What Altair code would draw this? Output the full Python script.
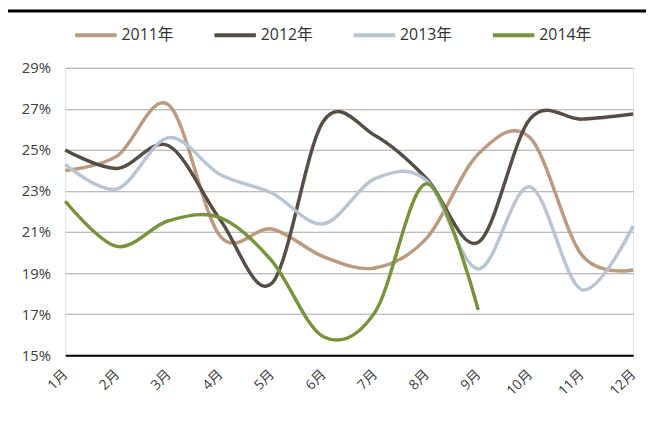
import altair as alt
import pandas as pd

months = ["1月", "2月", "3月", "4月", "5月", "6月", "7月", "8月", "9月", "10月", "11月", "12月"]
series = ["2011年", "2012年", "2013年", "2014年"]
v2011 = [24.0, 24.7, 27.2, 20.8, 21.15, 19.8, 19.25, 20.7, 24.8, 25.6, 19.9, 19.15]
v2012 = [25.0, 24.1, 25.2, 21.6, 18.5, 26.4, 25.7, 23.6, 20.5, 26.5, 26.5, 26.75]
v2013 = [24.3, 23.1, 25.6, 23.8, 22.9, 21.4, 23.6, 23.5, 19.2, 23.2, 18.2, 21.3]
v2014 = [22.5, 20.3, 21.55, 21.7, 19.6, 15.9, 17.1, 23.35, 17.2]
colors = ["#BA9B7F", "#564E45", "#B8C4D4", "#77933C"]
y_ticks = [15, 17, 19, 21, 23, 25, 27, 29]

rows = []
for name, vals in zip(series, [v2011, v2012, v2013, v2014]):
    for m, v in zip(months, vals):
        rows.append({"月份": m, "系列": name, "值": v, "order": series.index(name)})
df = pd.DataFrame(rows)

FONT = "Open Sans, Noto Sans CJK SC, sans-serif"

lines = alt.Chart(df).mark_line(interpolate="cardinal", strokeWidth=3.5).encode(
    x=alt.X("月份:N", sort=months,
            scale=alt.Scale(type="point", padding=0),
            axis=alt.Axis(title=None, labelAngle=-45, labelAlign="right", labelBaseline="middle",
                          labelPadding=17, ticks=False, domainColor="#000000", domainWidth=2,
                          labelFontSize=14, labelColor="#404040", labelFont=FONT, grid=False)),
    y=alt.Y("值:Q", scale=alt.Scale(domain=[15, 29], nice=False, zero=False),
            axis=alt.Axis(title=None, values=y_ticks, labelExpr="datum.value + '%'",
                          grid=True, gridColor="#A6A6A6", gridWidth=1, domain=False, ticks=False,
                          labelPadding=15, labelFontSize=15, labelColor="#404040", labelFont=FONT)),
    color=alt.Color("系列:N", sort=series,
                    scale=alt.Scale(domain=series, range=colors),
                    legend=alt.Legend(title=None, orient="none", direction="horizontal",
                                      legendX=8, legendY=-56, symbolType="stroke",
                                      symbolSize=1764, symbolStrokeWidth=4, labelOffset=3,
                                      columnPadding=33, labelFontSize=16, labelColor="#333333",
                                      labelFont=FONT, padding=0)),
    order=alt.Order("order:Q"),
    detail="系列:N",
)

top_rule = alt.Chart(pd.DataFrame({"k": [0]})).mark_rule(color="#000000", strokeWidth=3).encode(
    x=alt.value(-58), x2=alt.value(590), y=alt.value(-57.5)
)

chart = alt.layer(lines, top_rule).properties(
    width=575, height=291,
    autosize=alt.AutoSizeParams(type="none"),
    padding={"left": 58, "top": 58, "right": 13, "bottom": 60},
).configure_view(stroke=None).configure(font=FONT)

chart.save("out.html", embed_options={"renderer": "svg", "actions": False})
